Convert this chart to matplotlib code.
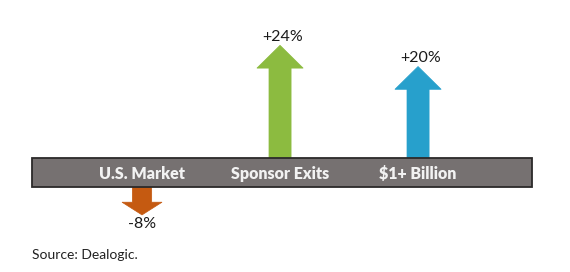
import matplotlib
matplotlib.use('Agg')
import matplotlib.pyplot as plt
from matplotlib.patches import Rectangle

categories = ['U.S. Market', 'Sponsor Exits', '$1+ Billion']
values = [-8, 24, 20]
labels = ['-8%', '+24%', '+20%']
colors = ['#c55a11', '#8cbb40', '#27a0cc']

plt.rcParams['font.family'] = ['Lato', 'DejaVu Sans']

fig = plt.figure(figsize=(5.7, 2.72), dpi=100)
ax = fig.add_axes([0, 0, 1, 1])
ax.set_xlim(-1.029, 3.101)
ax.set_ylim(-18.77, 32.55)
ax.axis('off')

# arrows start at the band centre line
for i, v in enumerate(values):
    hl = min(4.3, 0.3 * abs(v))
    ax.arrow(i, 0, 0, v, width=0.16 if v > 0 else 0.14,
             head_width=0.335 if v > 0 else 0.29, head_length=hl,
             length_includes_head=True, fc=colors[i], ec=colors[i],
             lw=0.5, zorder=2)
    if v > 0:
        ax.text(i + 0.02, v + 0.3, labels[i], ha='center', va='bottom',
                fontsize=11.5, color='#1a1a1a', zorder=4)
    else:
        ax.text(i, v - 0.4, labels[i], ha='center', va='top',
                fontsize=11.5, color='#1a1a1a', zorder=4)

band = Rectangle((-0.797, -2.74), 3.623, 5.48, fc='#767171',
                 ec='#2b2929', lw=1.3, zorder=3)
ax.add_patch(band)
for i, c in enumerate(categories):
    ax.text(i, -0.2, c, ha='center', va='center', fontsize=11.5,
            fontweight='heavy', color='#f2f2f2', zorder=4)

ax.text(-0.8, -15.5, 'Source: Dealogic.', ha='left', va='center',
        fontsize=10, color='#222222')

fig.savefig('out.png', dpi=100)
